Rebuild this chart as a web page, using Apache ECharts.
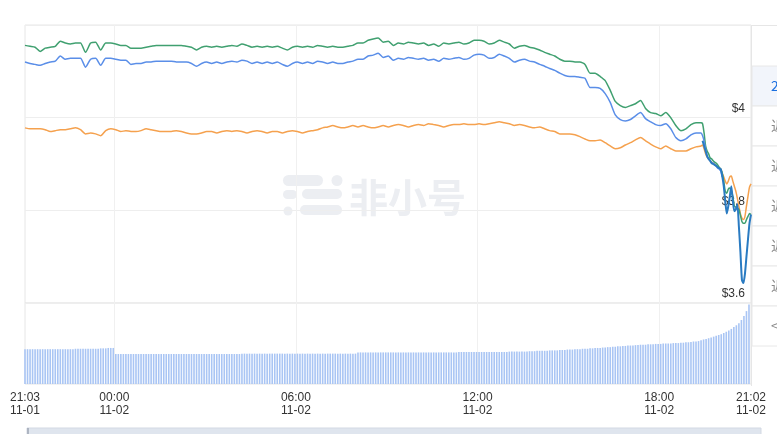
<!DOCTYPE html>
<html><head><meta charset="utf-8">
<script src="https://cdn.jsdelivr.net/npm/echarts@6/dist/echarts.min.js"></script>
<style>html,body{margin:0;padding:0;background:#fff}#c{width:777px;height:434px}</style>
</head><body><div id="c"></div><script>
// x values are minutes since 21:03 on 11-01 (last point 21:02 on 11-02)
const tickValues = [0, 177, 537, 897, 1257, 1439];
const tickLabels = ['21:03\n11-01', '00:00\n11-02', '06:00\n11-02', '12:00\n11-02', '18:00\n11-02', '21:02\n11-02'];
const gridTimes = [177, 537, 897, 1257];
const priceMin = 3.6, priceMax = 4.2, priceStep = 0.2;
const periodTabs = ['24H', '近7天', '近1月', '近3月', '近1年', '近3年', '<'];

// sampling grid of the lines: every 10 min, then every 3 min near the end
const bodyTimes = []; for (let t = 0; t <= 1330; t += 10) bodyTimes.push(t);
const endTimes = []; for (let t = 1340; t <= 1439; t += 3) endTimes.push(t);
const lineTimes = bodyTimes.concat(endTimes);

const greenValues = [
4.156,4.154,4.152,4.143,4.150,4.152,4.154,4.165,4.161,4.159,
4.161,4.161,4.141,4.161,4.163,4.146,4.161,4.161,4.159,4.156,
4.156,4.150,4.150,4.150,4.152,4.154,4.156,4.156,4.156,4.156,
4.156,4.156,4.154,4.152,4.146,4.152,4.154,4.152,4.154,4.152,
4.154,4.156,4.154,4.159,4.156,4.152,4.154,4.152,4.154,4.152,
4.154,4.150,4.146,4.152,4.154,4.152,4.154,4.152,4.156,4.154,
4.152,4.154,4.152,4.152,4.154,4.156,4.161,4.161,4.167,4.170,
4.172,4.163,4.165,4.156,4.161,4.159,4.163,4.161,4.159,4.161,
4.156,4.159,4.154,4.161,4.159,4.161,4.163,4.159,4.161,4.167,
4.167,4.165,4.159,4.161,4.167,4.163,4.159,4.150,4.154,4.156,
4.152,4.150,4.146,4.141,4.137,4.133,4.126,4.122,4.122,4.120,
4.120,4.115,4.096,4.096,4.089,4.080,4.059,4.035,4.026,4.022,
4.026,4.030,4.037,4.020,4.011,4.009,4.004,4.011,4.000,3.983,
3.972,3.976,3.985,3.989,
3.989,3.987,3.967,3.939,3.928,3.922,3.913,3.911,3.907,3.904,
3.902,3.898,3.893,3.889,3.880,3.863,3.841,3.837,3.846,3.848,
3.841,3.830,3.809,3.807,3.804,3.802,3.789,3.776,3.772,3.772,
3.780,3.787,3.793,3.791
];

const blueValues = [
4.120,4.117,4.115,4.113,4.117,4.120,4.122,4.133,4.126,4.128,
4.128,4.128,4.109,4.126,4.128,4.113,4.128,4.128,4.126,4.124,
4.124,4.115,4.117,4.117,4.120,4.120,4.122,4.122,4.122,4.122,
4.120,4.120,4.120,4.117,4.111,4.117,4.120,4.117,4.120,4.117,
4.120,4.122,4.120,4.124,4.122,4.117,4.120,4.117,4.120,4.117,
4.120,4.115,4.111,4.117,4.120,4.117,4.120,4.117,4.122,4.120,
4.117,4.120,4.117,4.117,4.120,4.122,4.126,4.126,4.133,4.135,
4.139,4.130,4.133,4.124,4.128,4.126,4.130,4.128,4.126,4.128,
4.124,4.126,4.122,4.128,4.126,4.128,4.130,4.126,4.128,4.135,
4.137,4.135,4.128,4.130,4.137,4.133,4.128,4.120,4.124,4.126,
4.122,4.120,4.115,4.111,4.106,4.102,4.096,4.091,4.089,4.089,
4.087,4.085,4.065,4.065,4.063,4.052,4.033,4.006,3.996,3.993,
3.996,4.004,4.011,3.998,3.991,3.985,3.983,3.987,3.976,3.957,
3.950,3.954,3.963,3.967,
3.967,3.961,3.950,3.933,3.917,3.911,3.907,3.902,3.902,3.898,
3.896,3.891,3.889,3.885,3.872
];

const orangeValues = [
3.978,3.976,3.976,3.976,3.974,3.970,3.972,3.974,3.974,3.976,
3.978,3.974,3.965,3.967,3.965,3.961,3.972,3.976,3.974,3.970,
3.972,3.970,3.970,3.972,3.976,3.974,3.972,3.970,3.970,3.970,
3.972,3.970,3.967,3.965,3.965,3.967,3.970,3.970,3.967,3.970,
3.972,3.970,3.972,3.970,3.967,3.970,3.972,3.970,3.967,3.970,
3.970,3.967,3.970,3.972,3.970,3.967,3.970,3.972,3.974,3.978,
3.980,3.983,3.980,3.978,3.980,3.983,3.980,3.983,3.980,3.978,
3.980,3.983,3.980,3.983,3.985,3.983,3.980,3.983,3.985,3.983,
3.987,3.985,3.983,3.980,3.983,3.985,3.985,3.987,3.985,3.985,
3.987,3.985,3.987,3.989,3.991,3.989,3.987,3.983,3.985,3.983,
3.980,3.978,3.980,3.976,3.972,3.970,3.965,3.965,3.965,3.963,
3.959,3.954,3.950,3.950,3.952,3.946,3.939,3.933,3.935,3.941,
3.946,3.952,3.957,3.950,3.943,3.937,3.933,3.939,3.933,3.928,
3.928,3.928,3.933,3.937,
3.939,3.941,3.933,3.922,3.915,3.911,3.907,3.904,3.902,3.900,
3.896,3.893,3.891,3.889,3.880,3.872,3.863,3.857,3.863,3.872,
3.874,3.863,3.852,3.841,3.826,3.809,3.793,3.783,3.780,3.787,
3.809,3.830,3.850,3.857
];

// latest price (USD), only in the final stretch
const priceEndValues = [
null,3.950,3.939,3.928,3.917,3.911,3.907,3.902,3.900,3.898,
3.896,3.893,3.891,3.889,3.874,3.852,3.820,3.793,3.809,3.830,
3.852,3.820,3.798,3.802,3.813,3.765,3.711,3.650,3.643,3.663,
3.700,3.737,3.772,3.791
];

// volume bars every 5 minutes (millions)
const volTimes = []; for (let t = 0; t < 1440; t += 5) volTimes.push(t);
const volumeValues = [
8.6,8.6,8.6,8.6,8.6,8.6,8.6,8.6,8.6,8.6,8.6,8.6,8.6,8.6,8.6,8.6,8.6,8.6,8.6,8.6,
8.7,8.7,8.7,8.7,8.7,8.7,8.7,8.7,8.7,8.7,
8.8,8.8,8.8,8.9,8.9,8.9,
7.4,7.4,7.4,7.4,7.4,7.4,7.4,7.4,7.4,7.4,
7.4,7.4,7.4,7.4,7.4,7.4,7.4,7.4,7.4,7.4,
7.4,7.4,7.4,7.4,7.4,7.4,7.4,7.4,7.4,7.4,
7.4,7.4,7.4,7.4,7.4,7.4,7.4,7.4,7.4,7.4,
7.4,7.4,7.4,7.4,7.4,7.4,7.4,7.4,7.4,7.4,
7.5,7.5,7.5,7.5,7.5,7.5,7.5,7.5,7.5,7.5,
7.5,7.5,7.5,7.5,7.5,7.5,7.5,7.5,7.5,7.5,
7.5,7.5,7.5,7.5,7.5,7.5,7.5,7.5,7.5,7.5,
7.5,7.5,7.5,7.5,7.5,7.5,7.5,7.5,7.5,7.5,
7.5,7.5,7.5,7.5,7.5,7.5,
7.8,7.8,7.8,7.8,7.8,7.8,7.8,7.8,7.8,7.8,
7.8,7.8,7.8,7.8,7.8,7.8,7.8,7.8,7.8,7.8,
7.8,7.8,7.8,7.8,7.8,7.8,7.8,7.8,7.8,7.8,
7.8,7.8,7.8,7.8,7.8,7.8,7.8,7.8,7.8,7.8,
7.9,7.9,7.9,7.9,7.9,7.9,7.9,7.9,7.9,7.9,
7.9,7.9,7.9,7.9,7.9,7.9,7.9,7.9,7.9,7.9,
8.0,8.0,8.0,8.0,8.0,8.0,8.0,8.0,
8.1,8.1,8.1,8.2,8.2,8.2,8.2,8.2,8.3,8.3,
8.3,8.3,8.4,8.4,8.4,8.5,8.5,8.5,8.6,8.6,
8.6,8.7,8.7,8.7,8.8,8.8,8.9,8.9,8.9,9.0,
9.0,9.1,9.1,9.2,9.2,9.3,9.3,9.4,9.4,9.5,
9.5,9.5,9.6,9.6,9.7,9.7,9.7,9.8,9.8,9.8,
9.9,9.9,9.9,10.0,10.0,10.0,10.0,10.1,10.1,10.1,
10.2,10.2,10.3,10.3,10.4,10.5,10.5,10.6,10.8,11.0,
11.1,11.3,11.5,11.7,11.9,12.1,12.3,12.6,12.9,13.2,
13.6,14.1,14.5,15.0,15.8,16.8,18.0,19.6
];

function pairs(times, vals) { return times.map((t, i) => [t, vals[i] === undefined ? null : vals[i]]); }
const priceValues = new Array(bodyTimes.length).fill(null).concat(priceEndValues);

const chart = echarts.init(document.getElementById('c'), null, {renderer: 'canvas'});
const labelFont = 'Liberation Sans, Arial, sans-serif';
const watermark = '#eceef2';
const panelRows = periodTabs.map((txt, i) => ({
  type: 'group', children: [
    {type: 'rect', shape: {x: 752, y: 66 + i * 40, width: 30, height: 40},
     style: {fill: i === 0 ? '#f2f5fb' : '#fff', stroke: '#e8e8e8', lineWidth: 1}},
    {type: 'text', x: 771, y: 86 + i * 40,
     style: {text: txt, fill: i === 0 ? '#1a6fe0' : '#888', font: '14px "Noto Sans CJK SC", sans-serif', verticalAlign: 'middle'}}
  ]
}));

chart.setOption({
  animation: false,
  backgroundColor: '#fff',
  grid: [
    {left: 25, right: 26, top: 25, height: 278, show: true, borderColor: '#e6e6e6', borderWidth: 1},
    {left: 25, right: 26, top: 303, height: 81, show: true, borderColor: '#e6e6e6', borderWidth: 1}
  ],
  xAxis: [
    {type: 'value', gridIndex: 0, min: 0, max: 1439,
     axisLine: {show: false}, axisTick: {show: false, customValues: gridTimes},
     axisLabel: {show: false}, splitLine: {show: true, lineStyle: {color: '#f0f0f0'}}},
    {type: 'value', gridIndex: 1, min: 0, max: 1439,
     axisLine: {show: false}, axisTick: {show: false, customValues: gridTimes},
     axisLabel: {show: true, customValues: tickValues, color: '#333', fontSize: 12, lineHeight: 13, margin: 7,
       fontFamily: labelFont, hideOverlap: false,
       formatter: v => tickLabels[tickValues.indexOf(v)] || ''},
     splitLine: {show: true, lineStyle: {color: '#f0f0f0'}}}
  ],
  yAxis: [
    {type: 'value', gridIndex: 0, position: 'right', min: priceMin, max: priceMax, interval: priceStep,
     axisLine: {show: false}, axisTick: {show: false},
     axisLabel: {inside: true, margin: 6, showMaxLabel: false, color: '#333', fontSize: 12, fontFamily: labelFont,
       verticalAlign: 'bottom', lineHeight: 18, formatter: v => '$' + (+v.toFixed(2))},
     splitLine: {lineStyle: {color: '#eeeeee'}}},
    {type: 'value', gridIndex: 1, min: 0, max: 20, show: false, splitLine: {show: false}}
  ],
  graphic: [
    {type: 'group', z: -5, silent: true, children: [
      {type: 'rect', shape: {x: 283, y: 175, width: 40, height: 11, r: 5.5}, style: {fill: watermark}},
      {type: 'circle', shape: {cx: 337, cy: 180.5, r: 5.5}, style: {fill: watermark}},
      {type: 'rect', shape: {x: 283, y: 190, width: 14, height: 9, r: 4.5}, style: {fill: watermark}},
      {type: 'rect', shape: {x: 302, y: 189, width: 40, height: 10, r: 5}, style: {fill: watermark}},
      {type: 'circle', shape: {cx: 288, cy: 211, r: 4.5}, style: {fill: watermark}},
      {type: 'rect', shape: {x: 300, y: 205, width: 42, height: 10, r: 5}, style: {fill: watermark}},
      {type: 'text', x: 349, y: 197, style: {text: '非小号', fill: watermark,
        font: 'bold 39px "Noto Sans CJK SC", sans-serif', verticalAlign: 'middle'}}
    ]},
    {type: 'group', silent: true, children: [
      {type: 'line', shape: {x1: 751.5, y1: 25, x2: 751.5, y2: 386}, style: {stroke: '#e6e6e6', lineWidth: 1}},
      {type: 'line', shape: {x1: 751, y1: 25.5, x2: 777, y2: 25.5}, style: {stroke: '#e6e6e6', lineWidth: 1}}
    ].concat(panelRows)},
    {type: 'group', silent: true, children: [
      {type: 'rect', shape: {x: 27, y: 428, width: 734, height: 10}, style: {fill: '#dfe5ee', stroke: '#d3d9e3', lineWidth: 1}},
      {type: 'line', shape: {x1: 28, y1: 428, x2: 28, y2: 434}, style: {stroke: '#9ea6b3', lineWidth: 1.5}}
    ]}
  ],
  series: [
    {type: 'bar', xAxisIndex: 1, yAxisIndex: 1, data: pairs(volTimes, volumeValues), barWidth: 1.6,
     itemStyle: {color: '#a9c5f4'}},
    {type: 'line', xAxisIndex: 0, yAxisIndex: 0, data: pairs(lineTimes, orangeValues), showSymbol: false,
     smooth: 0.2, lineStyle: {color: '#f5a14e', width: 1.5}},
    {type: 'line', xAxisIndex: 0, yAxisIndex: 0, data: pairs(lineTimes, greenValues), showSymbol: false,
     smooth: 0.2, lineStyle: {color: '#40a070', width: 1.5}},
    {type: 'line', xAxisIndex: 0, yAxisIndex: 0, data: pairs(lineTimes, blueValues), showSymbol: false,
     smooth: 0.2, lineStyle: {color: '#5a8ee8', width: 1.5}},
    {type: 'line', xAxisIndex: 0, yAxisIndex: 0, data: pairs(lineTimes, priceValues), showSymbol: false,
     smooth: 0.2, connectNulls: false, lineStyle: {color: '#2a7bc2', width: 2}}
  ]
});
</script></body></html>
